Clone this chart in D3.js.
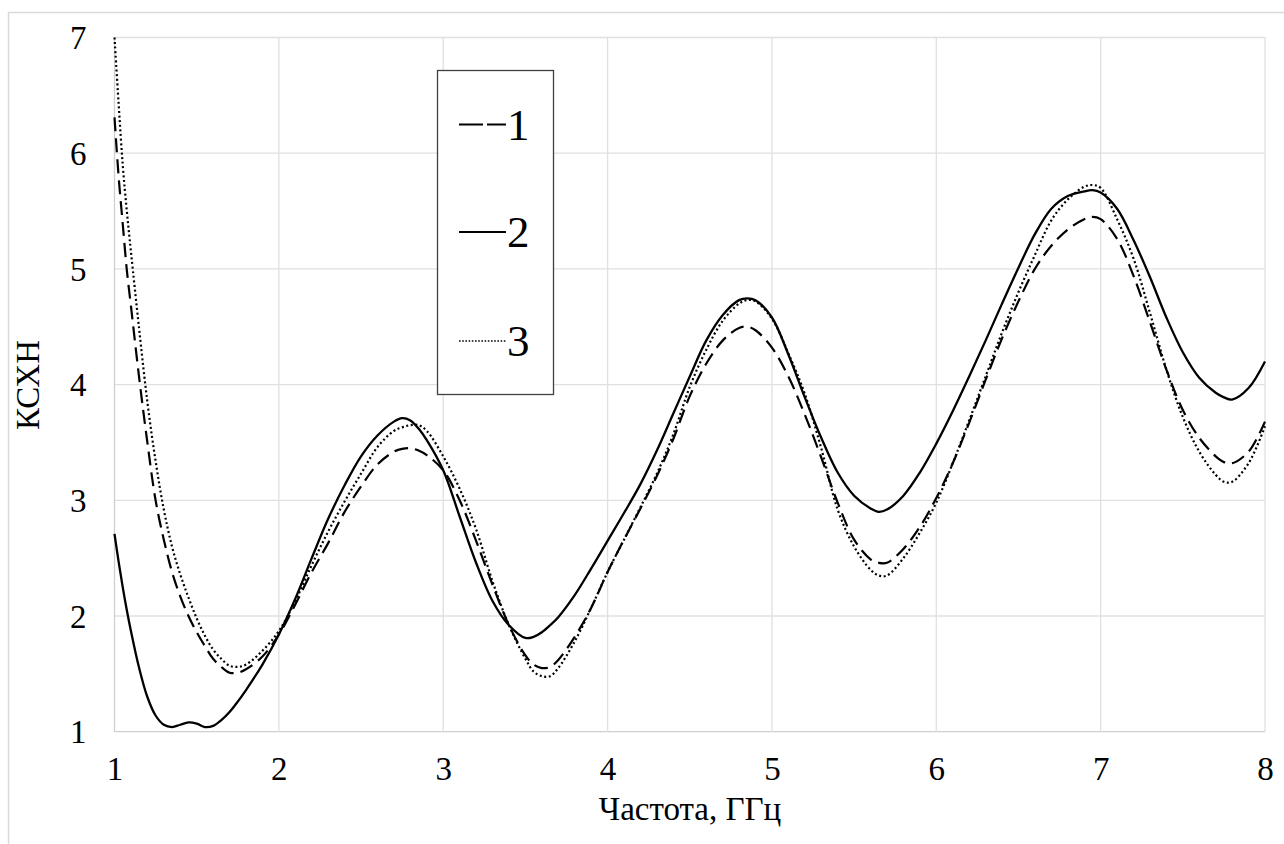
<!DOCTYPE html>
<html><head><meta charset="utf-8">
<script src="https://cdn.jsdelivr.net/npm/d3@7"></script>
<style>html,body{margin:0;padding:0;background:#fff;}svg{display:block;} text{font-family:"Liberation Serif","Times New Roman",Times,serif;}</style>
</head><body>
<svg id="chart" width="1284" height="844"></svg>
<script>
const freq = [1.0,1.025,1.05,1.075,1.1,1.15,1.2,1.25,1.3,1.35,1.4,1.45,1.5,1.55,1.6,1.65,1.7,1.75,1.8,1.9,
  2.0,2.1,2.2,2.3,2.4,2.5,2.6,2.7,2.75,2.8,2.85,2.9,3.0,3.1,3.2,3.3,3.4,3.5,3.55,3.6,3.65,3.7,3.8,3.9,
  4.0,4.1,4.2,4.3,4.4,4.5,4.6,4.7,4.8,4.85,4.9,5.0,5.1,5.2,5.3,5.4,5.5,5.6,5.65,5.7,5.8,5.9,
  6.0,6.1,6.2,6.3,6.4,6.5,6.6,6.7,6.8,6.9,6.95,7.0,7.1,7.2,7.3,7.4,7.5,7.6,7.7,7.75,7.8,7.9,8.0];

const series1 = [6.31,5.80,5.39,4.99,4.68,4.06,3.50,3.00,2.66,2.38,2.17,2.00,1.86,1.74,1.63,1.56,1.51,1.51,1.54,1.65,
  1.84,2.10,2.38,2.63,2.90,3.12,3.31,3.42,3.445,3.45,3.43,3.39,3.26,3.00,2.65,2.27,1.92,1.66,1.58,1.55,1.56,1.62,1.82,2.07,
  2.38,2.66,2.93,3.21,3.53,3.90,4.18,4.38,4.49,4.50,4.47,4.32,4.07,3.74,3.37,2.98,2.66,2.49,2.46,2.46,2.58,2.77,
  3.02,3.32,3.67,4.04,4.40,4.72,5.00,5.20,5.34,5.43,5.45,5.43,5.26,4.94,4.54,4.13,3.78,3.54,3.38,3.33,3.32,3.42,3.68];

const series2 = [2.71,2.47,2.25,2.05,1.87,1.55,1.30,1.14,1.06,1.04,1.06,1.08,1.07,1.04,1.05,1.10,1.17,1.26,1.36,1.58,
  1.84,2.15,2.50,2.84,3.13,3.38,3.56,3.68,3.71,3.69,3.62,3.52,3.26,2.86,2.46,2.13,1.92,1.81,1.82,1.86,1.92,1.99,2.18,2.41,
  2.65,2.89,3.14,3.43,3.75,4.07,4.38,4.60,4.73,4.745,4.73,4.58,4.26,3.89,3.54,3.24,3.04,2.93,2.90,2.92,3.04,3.24,
  3.49,3.77,4.07,4.38,4.70,5.01,5.30,5.52,5.63,5.67,5.68,5.66,5.52,5.25,4.93,4.58,4.28,4.06,3.93,3.89,3.87,3.97,4.20];

const series3 = [7.00,6.43,5.90,5.50,5.15,4.48,3.85,3.34,2.92,2.60,2.36,2.16,1.98,1.83,1.71,1.63,1.57,1.56,1.58,1.70,
  1.87,2.13,2.44,2.73,2.99,3.23,3.46,3.60,3.63,3.65,3.65,3.60,3.38,3.10,2.75,2.30,1.92,1.63,1.52,1.48,1.48,1.55,1.78,2.07,
  2.38,2.66,2.94,3.23,3.57,3.98,4.30,4.55,4.70,4.73,4.72,4.57,4.27,3.92,3.45,2.92,2.60,2.40,2.35,2.35,2.50,2.72,
  2.98,3.32,3.69,4.07,4.45,4.80,5.12,5.42,5.60,5.71,5.725,5.70,5.43,5.09,4.62,4.13,3.72,3.42,3.22,3.16,3.16,3.32,3.64];

const xTicks = [1,2,3,4,5,6,7,8];
const yTicks = [1,2,3,4,5,6,7];
const legendLabels = ["1","2","3"];
const xTitle = "Частота, ГГц";
const yTitle = "КСХН";

const svg = d3.select("#chart");

// outer frame
svg.append("rect").attr("x",8.5).attr("y",12.5).attr("width",1400).attr("height",1000)
  .attr("fill","none").attr("stroke","#d9d9d9").attr("stroke-width",1.5);

const x = d3.scaleLinear().domain([1,8]).range([114.5,1265]);
const y = d3.scaleLinear().domain([1,7]).range([731.7,37.5]);

// grid
svg.append("g").selectAll("line").data(yTicks).join("line")
  .attr("x1",x(1)).attr("x2",x(8)).attr("y1",d=>y(d)).attr("y2",d=>y(d))
  .attr("stroke",d=>d===1?"#cfcfcf":"#e0e0e0").attr("stroke-width",1.3);
svg.append("g").selectAll("line").data(xTicks).join("line")
  .attr("x1",d=>x(d)).attr("x2",d=>x(d)).attr("y1",y(1)).attr("y2",y(7))
  .attr("stroke",d=>d===1?"#cfcfcf":"#e0e0e0").attr("stroke-width",1.3);

// axes (labels via d3 axes)
const xAxis = svg.append("g").attr("transform",`translate(0,${y(1)})`)
  .call(d3.axisBottom(x).tickValues(xTicks).tickSize(0).tickPadding(25).tickFormat(d3.format("d")));
const yAxis = svg.append("g").attr("transform",`translate(${x(1)},0)`)
  .call(d3.axisLeft(y).tickValues(yTicks).tickSize(0).tickPadding(28).tickFormat(d3.format("d")));
[xAxis,yAxis].forEach(a=>{
  a.select(".domain").remove();
  a.attr("font-family",null).attr("font-size",null);
  a.selectAll("text").style("font-family",'"Liberation Serif", serif').style("font-size","33px").attr("fill","#000");
});
xAxis.selectAll("text").attr("dy","0.71em");
yAxis.selectAll("text").attr("dy","0.34em");

// titles
svg.append("text").attr("x",690).attr("y",820).attr("text-anchor","middle")
  .style("font-size","33px").attr("fill","#000").text(xTitle);
svg.append("text").attr("transform","translate(39,385) rotate(-90)").attr("text-anchor","middle")
  .style("font-size","33px").attr("fill","#000").text(yTitle);

// lines
const styles = [
  {data:series1, dash:"14,7", w:2.2},
  {data:series2, dash:null, w:2.3},
  {data:series3, dash:"2,2.6", w:2.2}
];
const line = d3.line().x(d=>x(d[0])).y(d=>y(d[1])).curve(d3.curveCatmullRom.alpha(0.5));
styles.forEach(s=>{
  svg.append("path").datum(freq.map((f,i)=>[f,s.data[i]]))
    .attr("d",line).attr("fill","none").attr("stroke","#000")
    .attr("stroke-width",s.w).attr("stroke-dasharray",s.dash);
});

// legend
const lg = svg.append("g");
lg.append("rect").attr("x",437.5).attr("y",70.5).attr("width",116).attr("height",324)
  .attr("fill","#fff").attr("stroke","#404040").attr("stroke-width",1.3);
const legendY = [124.5,232,341];
const legendDash = ["24,4",null,"1.6,1.6"];
legendLabels.forEach((lab,i)=>{
  lg.append("line").attr("x1",459).attr("x2",506).attr("y1",legendY[i]).attr("y2",legendY[i])
    .attr("stroke","#000").attr("stroke-width",i===2?1.4:2).attr("stroke-dasharray",legendDash[i]);
  lg.append("text").attr("x",507).attr("y",legendY[i]+15)
    .style("font-size","45px").attr("fill","#000").text(lab);
});
</script>
</body></html>
